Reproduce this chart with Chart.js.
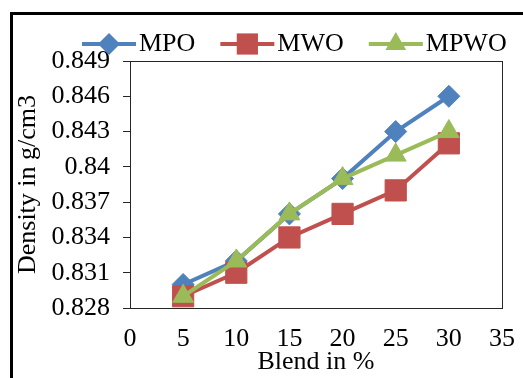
<!DOCTYPE html>
<html>
<head>
<meta charset="utf-8">
<script src="https://cdn.jsdelivr.net/npm/chart.js@4.4.1/dist/chart.umd.min.js"></script>
<style>
  html, body { margin: 0; padding: 0; background: #ffffff; }
  #wrap { width: 523px; height: 378px; }
</style>
</head>
<body>
<div id="wrap"><canvas id="chart" width="523" height="378"></canvas></div>
<script>
// Density of fuel blends versus blend percentage
const seriesNames = ['MPO', 'MWO', 'MPWO'];
const blendPercent = [5, 10, 15, 20, 25, 30];
const densityMPO = [0.830, 0.832, 0.836, 0.839, 0.843, 0.846];
const densityMWO = [0.829, 0.831, 0.834, 0.836, 0.838, 0.842];
const densityMPWO = [0.829, 0.832, 0.836, 0.839, 0.841, 0.843];
const xTickLabels = ['0', '5', '10', '15', '20', '25', '30', '35'];
const yTickLabels = ['0.828', '0.831', '0.834', '0.837', '0.84', '0.843', '0.846', '0.849'];

const FONT = "'Liberation Serif', 'Times New Roman', serif";
const seriesColors = ['#4F81BD', '#C0504D', '#9BBB59'];
const seriesMarkers = ['rectRot', 'rect', 'triangle'];
const markerRadius = [11, 15, 12];
const seriesValues = [densityMPO, densityMWO, densityMPWO];

const toPoints = (vals) => blendPercent.map((x, i) => ({ x: x, y: vals[i] }));

const datasets = seriesNames.map((name, i) => ({
  label: name,
  data: toPoints(seriesValues[i]),
  borderColor: seriesColors[i],
  backgroundColor: seriesColors[i],
  borderWidth: 4,
  pointStyle: seriesMarkers[i],
  pointRadius: markerRadius[i],
  pointBorderWidth: 1,
  pointBorderColor: seriesColors[i],
  pointBackgroundColor: seriesColors[i],
  tension: 0,
  fill: false,
  order: seriesNames.length - i
}));

// Marker shapes for the hand-drawn legend
function drawMarker(ctx, style, x, y, r, color) {
  ctx.save();
  ctx.fillStyle = color;
  ctx.beginPath();
  if (style === 'rectRot') {
    ctx.moveTo(x, y - r); ctx.lineTo(x + r, y); ctx.lineTo(x, y + r); ctx.lineTo(x - r, y);
  } else if (style === 'rect') {
    const s = r * Math.SQRT1_2;
    ctx.rect(x - s, y - s, 2 * s, 2 * s);
  } else {
    const h = r * 1.5;
    ctx.moveTo(x, y - r); ctx.lineTo(x + r * 0.866, y + r / 2); ctx.lineTo(x - r * 0.866, y + r / 2);
  }
  ctx.closePath();
  ctx.fill();
  ctx.restore();
}

const framePlugin = {
  id: 'frame',
  beforeDraw(chart) {
    const ctx = chart.ctx;
    ctx.save();
    ctx.fillStyle = '#ffffff';
    ctx.fillRect(0, 0, chart.width, chart.height);
    ctx.strokeStyle = '#000000';
    ctx.lineWidth = 3;
    ctx.strokeRect(11.5, 13.5, 700, 700);
    ctx.restore();
  },
  beforeDatasetsDraw(chart) {
    const a = chart.chartArea;
    const ctx = chart.ctx;
    ctx.save();
    ctx.strokeStyle = '#262626';
    ctx.lineWidth = 1;
    ctx.strokeRect(Math.round(a.left) + 0.5, Math.round(a.top) + 0.5,
                   Math.round(a.right - a.left), Math.round(a.bottom - a.top));
    ctx.restore();
  },
  afterDraw(chart) {
    // legend row: line segment with marker, then series name
    const ctx = chart.ctx;
    ctx.save();
    ctx.font = '26px ' + FONT;
    ctx.textBaseline = 'middle';
    ctx.fillStyle = '#000000';
    const y = 44;
    const lineLen = 54;
    let x = 82;
    seriesNames.forEach((name, i) => {
      ctx.strokeStyle = seriesColors[i];
      ctx.lineWidth = 4;
      ctx.beginPath();
      ctx.moveTo(x, y);
      ctx.lineTo(x + lineLen, y);
      ctx.stroke();
      drawMarker(ctx, seriesMarkers[i], x + lineLen / 2, y, markerRadius[i], seriesColors[i]);
      const tx = x + lineLen + 3;
      ctx.fillText(name, tx, y);
      x = tx + ctx.measureText(name).width + 25;
    });
    ctx.restore();
  }
};

new Chart(document.getElementById('chart'), {
  type: 'line',
  data: { datasets: datasets },
  plugins: [framePlugin],
  options: {
    responsive: false,
    animation: false,
    devicePixelRatio: 1,
    layout: { padding: { top: 61, left: 13, right: 20, bottom: 0 } },
    plugins: { legend: { display: false }, tooltip: { enabled: false } },
    scales: {
      x: {
        type: 'linear',
        min: 0,
        max: 35,
        afterBuildTicks: (s) => { s.ticks = xTickLabels.map(v => ({ value: Number(v) })); },
        afterFit: (s) => { s.height = 70; },
        ticks: {
          autoSkip: false,
          maxRotation: 0,
          padding: 8,
          color: '#000000',
          font: { family: FONT, size: 26 },
          callback: (v, i) => xTickLabels[i]
        },
        grid: { display: false },
        border: { display: true, color: '#262626', width: 1 },
        title: {
          display: true,
          text: 'Blend in %',
          color: '#000000',
          font: { family: FONT, size: 26 },
          padding: { top: 0, bottom: 0 }
        }
      },
      y: {
        type: 'linear',
        min: 0.828,
        max: 0.849,
        afterBuildTicks: (s) => { s.ticks = yTickLabels.map(v => ({ value: Number(v) })); },
        afterFit: (s) => { s.width = 117; },
        ticks: {
          padding: 13,
          color: '#000000',
          font: { family: FONT, size: 26 },
          callback: (v, i) => yTickLabels[i]
        },
        grid: {
          display: true,
          drawOnChartArea: false,
          drawTicks: true,
          tickLength: 7,
          color: '#262626'
        },
        border: { display: true, color: '#262626', width: 1 },
        title: {
          display: true,
          text: 'Density in g/cm3',
          color: '#000000',
          font: { family: FONT, size: 26 },
          padding: { top: 0, bottom: 0 }
        }
      }
    }
  }
});
</script>
</body>
</html>
